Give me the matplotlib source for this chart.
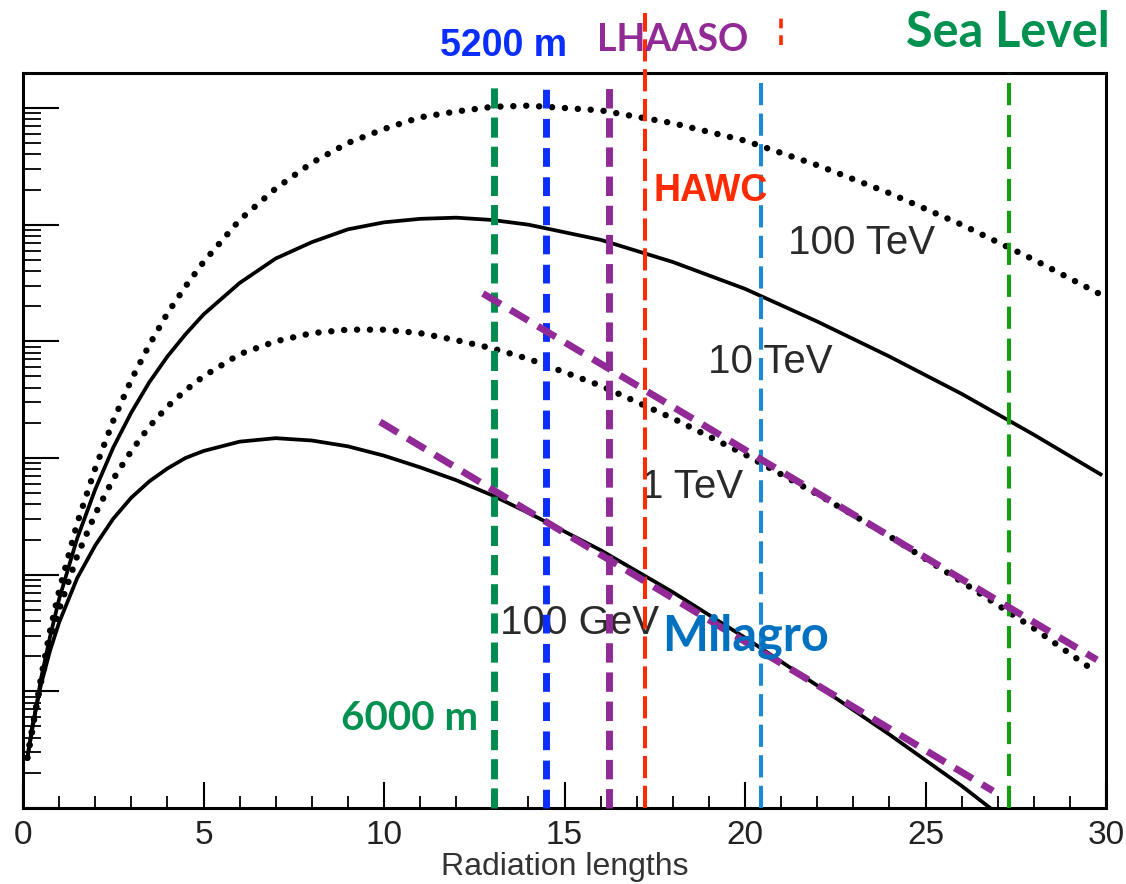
import numpy as np
import matplotlib
matplotlib.use("Agg")
import matplotlib.pyplot as plt
from matplotlib.ticker import LogLocator, NullFormatter, MultipleLocator

plt.rcParams['lines.scale_dashes'] = False
plt.rcParams['font.family'] = ['Liberation Sans', 'DejaVu Sans']

# ---- data (y values given as log10 of the shower size) ----
x_100TeV = [0.12, 0.25, 0.5, 0.75, 1.0, 1.5, 2.0, 2.5, 3.0, 3.5, 4.0, 4.5, 5.0, 6.0, 7.0, 8.0,
            9.0, 10.0, 11.0, 12.0, 13.0, 14.0, 16.0, 18.0, 20.0, 22.0, 24.0, 26.0, 28.0, 29.8]
ly_100TeV = [0.43, 0.65, 1.12, 1.52, 1.86, 2.44, 2.91, 3.32, 3.67, 3.97, 4.24, 4.47, 4.68, 5.04,
             5.31, 5.53, 5.70, 5.82, 5.92, 5.97, 6.01, 6.02, 5.98, 5.87, 5.72, 5.51, 5.27, 5.00,
             4.70, 4.41]

x_10TeV = [0.12, 0.25, 0.5, 0.75, 1.0, 1.5, 2.0, 2.5, 3.0, 3.5, 4.0, 4.5, 5.0, 6.0, 7.0, 8.0,
           9.0, 10.0, 11.0, 12.0, 13.0, 14.0, 16.0, 18.0, 20.0, 22.0, 24.0, 26.0, 28.0, 29.85]
ly_10TeV = [0.43, 0.66, 1.11, 1.47, 1.79, 2.31, 2.73, 3.09, 3.39, 3.65, 3.87, 4.06, 4.23, 4.50,
            4.71, 4.85, 4.96, 5.02, 5.05, 5.06, 5.04, 5.00, 4.87, 4.68, 4.45, 4.17, 3.87, 3.55,
            3.20, 2.86]

x_1TeV = [0.12, 0.25, 0.5, 0.75, 1.0, 1.5, 2.0, 2.5, 3.0, 3.5, 4.0, 4.5, 5.0, 6.0, 7.0, 8.0,
          9.0, 10.0, 11.0, 12.0, 13.0, 14.0, 16.0, 18.0, 20.0, 22.0, 24.0, 26.0, 28.0, 29.7]
ly_1TeV = [0.43, 0.67, 1.08, 1.42, 1.70, 2.16, 2.52, 2.82, 3.06, 3.27, 3.44, 3.58, 3.70, 3.89,
           4.00, 4.07, 4.10, 4.10, 4.07, 4.01, 3.94, 3.85, 3.62, 3.34, 3.03, 2.69, 2.33, 1.94,
           1.54, 1.17]

x_100GeV = [0.12, 0.25, 0.5, 0.75, 1.0, 1.5, 2.0, 2.5, 3.0, 3.5, 4.0, 4.5, 5.0, 6.0, 7.0, 8.0,
            9.0, 10.0, 11.0, 12.0, 13.0, 14.0, 15.0, 16.0, 18.0, 20.0, 22.0, 24.0, 26.0, 27.0]
ly_100GeV = [0.43, 0.69, 1.06, 1.35, 1.59, 1.97, 2.25, 2.48, 2.66, 2.80, 2.91, 3.00, 3.06, 3.14,
             3.17, 3.15, 3.10, 3.02, 2.92, 2.81, 2.68, 2.53, 2.37, 2.21, 1.85, 1.46, 1.05, 0.63,
             0.19, -0.05]

# observatory depths (radiation lengths)
depth_names = ["6000 m", "5200 m", "LHAASO", "HAWC", "Milagro", "Sea Level"]
depth_x = [13.05, 14.48, 16.23, 17.23, 20.43, 27.31]

# purple reference slopes: (x0, log y0, x1, log y1)
slope_upper = (12.74, 4.41, 29.75, 1.27)
slope_lower = (9.89, 3.31, 26.87, 0.146)

curve_labels = ["100 TeV", "10 TeV", "1 TeV", "100 GeV"]

fig = plt.figure(figsize=(11.26, 8.84), dpi=100)
ax = fig.add_axes([23/1126, 76/884, (1106-23)/1126, (808-73)/884])
ax.set_xlim(0, 30)
ax.set_yscale('log')
ax.set_ylim(1, 10**6.3)


def pw(v):
    return [10**a for a in v]


dot = dict(color='black', lw=4.6, linestyle=(0, (0.1, 9.2)), dash_capstyle='round',
           solid_capstyle='round')
ax.plot(x_100TeV, pw(ly_100TeV), **dot)
ax.plot(x_1TeV, pw(ly_1TeV), **dot)
ax.plot(x_10TeV, pw(ly_10TeV), color='black', lw=2.7)
ax.plot(x_100GeV, pw(ly_100GeV), color='black', lw=2.7)

# vertical depth lines
vstyles = [
    dict(color='#008c4e', lw=5.0, dashes=(14.5, 6.5), top=0.99),
    dict(color='#0a2eff', lw=5.0, dashes=(13.5, 7.5), top=0.99),
    dict(color='#912a96', lw=5.0, dashes=(14.0, 7.0), top=0.984),
    dict(color='#ff2a00', lw=2.9, dashes=(16.0, 5.5), top=1.082),
    dict(color='#1a8ad4', lw=2.9, dashes=(16.0, 6.0), top=0.995),
    dict(color='#10a010', lw=2.9, dashes=(16.0, 7.0), top=1.0),
]
for xv, st in zip(depth_x, vstyles):
    ax.axvline(xv, ymin=0, ymax=st['top'], color=st['color'], lw=st['lw'],
               linestyle=(0, st['dashes']), clip_on=False, zorder=3)
# small red stray dashes above the frame
ax.axvline(21.0, ymin=1.038, ymax=1.079, color='#ff2a00', lw=2.6,
           linestyle=(0, (7, 5)), clip_on=False)

for s in (slope_upper, slope_lower):
    ax.plot([s[0], s[2]], [10**s[1], 10**s[3]], color='#912a96', lw=5.0,
            linestyle=(0, (15, 8)), zorder=4)

# curve labels
lab_pos = [(23.24, 4.84), (20.69, 3.82), (18.53, 2.75), (15.43, 1.59)]
for t, (xx, ll) in zip(curve_labels, lab_pos):
    ax.text(xx, 10**ll, t, fontsize=29, color='#2a2a2a', ha='center', va='center', zorder=2)

# coloured annotations
ax.text(13.3, 10**6.53, depth_names[1], fontsize=27, fontweight='bold', color='#0a2eff',
        ha='center', va='center', clip_on=False)
ax.text(18.0, 10**6.58, depth_names[2], fontsize=27, fontweight='bold', color='#912a96',
        ha='center', va='center', family=['Lato', 'DejaVu Sans'], clip_on=False)
ax.text(27.29, 10**6.65, depth_names[5], fontsize=35, fontweight='bold', color='#009150',
        ha='center', va='center', family=['Lato', 'DejaVu Sans'], clip_on=False)
ax.text(19.05, 10**5.29, depth_names[3], fontsize=27, fontweight='bold', color='#ff2a00',
        ha='center', va='center')
ax.text(20.0, 10**1.475, depth_names[4], fontsize=35, fontweight='bold', color='#0070c0',
        ha='center', va='center', family=['Lato', 'DejaVu Sans'], zorder=5)
ax.text(10.72, 10**0.77, depth_names[0], fontsize=29, fontweight='bold', color='#009150',
        ha='center', va='center', family=['Lato', 'DejaVu Sans'])

# axes styling
for sp in ax.spines.values():
    sp.set_linewidth(2.2)
ax.xaxis.set_major_locator(MultipleLocator(5))
ax.xaxis.set_minor_locator(MultipleLocator(1))
ax.yaxis.set_major_locator(LogLocator(base=10, numticks=10))
ax.yaxis.set_minor_locator(LogLocator(base=10, subs=np.arange(2, 10), numticks=100))
ax.yaxis.set_minor_formatter(NullFormatter())
ax.tick_params(axis='x', which='major', direction='in', length=19, width=1.5,
               labelsize=24, pad=9, labelcolor='#222222')
ax.tick_params(axis='x', which='minor', direction='in', length=9, width=1.3)
ax.tick_params(axis='y', which='major', direction='in', length=26, width=1.5, labelleft=False)
ax.tick_params(axis='y', which='minor', direction='in', length=13, width=1.3)
ax.tick_params(top=False, right=False, which='both')
ax.set_xlabel("Radiation lengths", fontsize=23, color='#333333', labelpad=0)

fig.savefig("out.png", dpi=100)
